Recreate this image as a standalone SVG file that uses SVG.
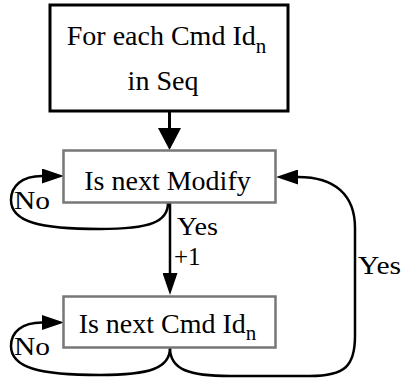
<svg xmlns="http://www.w3.org/2000/svg" width="403" height="381" viewBox="0 0 403 381">
<style>
  .main { font-family: "Liberation Serif", "Times New Roman", serif; font-size: 28px; fill: #000; }
  .lbl { font-family: "Liberation Serif", "Times New Roman", serif; font-size: 25px; fill: #000; }
  .sub { font-size: 21px; }
  .box1 { fill: #fff; stroke: #000; stroke-width: 3; }
  .box2 { fill: #fff; stroke: #777; stroke-width: 2.5; }
  .edge { fill: none; stroke: #000; stroke-width: 2.5; }
</style>
<defs>
  <marker id="ah" markerUnits="userSpaceOnUse" markerWidth="22" markerHeight="15" viewBox="0 0 22 15" refX="0" refY="7.5" orient="auto">
    <path d="M0,0 L22,7.5 L0,15 z" fill="#000"/>
  </marker>
  <marker id="ahBig" markerUnits="userSpaceOnUse" markerWidth="22" markerHeight="23" viewBox="0 0 22 23" refX="0" refY="11.5" orient="auto">
    <path d="M0,0 L22,11.5 L0,23 z" fill="#000"/>
  </marker>
</defs>

<g id="connectors">
  <path class="edge" style="stroke-width:3" d="M169.5,112 L169.5,128" marker-end="url(#ahBig)"/>
  <path class="edge" d="M170,203 L170,273" marker-end="url(#ah)"/>
  <path class="edge" d="M168,203 C168,222 150,229 100,229 C40,229 11,222 11,200 C11,186 22,176 42,176" marker-end="url(#ah)"/>
  <path class="edge" d="M170,348 C170,368 150,375 100,375 C40,375 11,368 11,346 C11,332 22,322.5 42,322.5" marker-end="url(#ah)"/>
  <path class="edge" d="M170,348 C170,370 190,376 230,376 L310,376 C345,376 355,366 355,336 L355,228 C355,195 335,177 298,177" marker-end="url(#ah)"/>
  <text class="lbl" x="177" y="235" textLength="41" lengthAdjust="spacingAndGlyphs">Yes</text>
  <text class="lbl" x="174" y="265">+1</text>
  <text class="lbl" x="14" y="209" textLength="36" lengthAdjust="spacingAndGlyphs">No</text>
  <text class="lbl" x="14" y="355" textLength="36" lengthAdjust="spacingAndGlyphs">No</text>
  <text class="lbl" x="358" y="274" textLength="43" lengthAdjust="spacingAndGlyphs">Yes</text>
</g>

<g id="node-foreach">
  <rect class="box1" x="50" y="5" width="238" height="106"/>
  <text class="main" x="166.5" y="45" text-anchor="middle">For each Cmd Id<tspan class="sub" dy="8">n</tspan></text>
  <text class="main" x="163" y="90" text-anchor="middle">in Seq</text>
</g>

<g id="node-modify">
  <rect class="box2" x="63.5" y="150.5" width="212" height="52"/>
  <text class="main" x="167.5" y="190" text-anchor="middle">Is next Modify</text>
</g>

<g id="node-cmdid">
  <rect class="box2" x="63.5" y="296.5" width="212" height="51"/>
  <text class="main" x="167.5" y="333" text-anchor="middle">Is next Cmd Id<tspan class="sub" dy="7">n</tspan></text>
</g>
</svg>
